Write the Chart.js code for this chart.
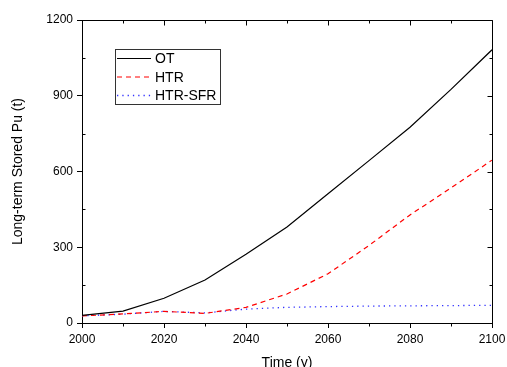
<!DOCTYPE html>
<html>
<head>
<meta charset="utf-8">
<script src="https://cdn.jsdelivr.net/npm/chart.js@4.4.0/dist/chart.umd.min.js"></script>
<style>
html, body { margin: 0; padding: 0; background: #fff; }
</style>
</head>
<body>
<canvas id="canvas1" width="507" height="367"></canvas>
<script>
// data
let years = [2000, 2010, 2020, 2030, 2040, 2050, 2060, 2070, 2080, 2090, 2100];
let otValues = [30, 47, 98, 170, 272, 380, 512, 643, 775, 925, 1082];
let htrValues = [28, 36, 46, 38, 62, 115, 195, 307, 428, 535, 645];
let htrSfrValues = [28, 35, 46, 40, 55, 62, 65, 67, 68, 69, 70];
let seriesNames = ["OT", "HTR", "HTR-SFR"];
let xTicks = [2000, 2020, 2040, 2060, 2080, 2100];
let yTicks = [0, 300, 600, 900, 1200];

function toPoints(vals) {
	return vals.map((v, i) => ({ x: years[i], y: v }));
}

const FONT = "'Liberation Sans', Arial, sans-serif";

// box around the plot + minor ticks (Origin style)
const framePlugin = {
	id: 'frame',
	afterDraw(chart) {
		const ctx = chart.ctx;
		const a = chart.chartArea;
		const xs = chart.scales.x, ys = chart.scales.y;
		const L = Math.round(a.left) + 0.5, R = Math.round(a.right) + 0.5;
		const T = Math.round(a.top) + 0.5, B = Math.round(a.bottom) + 0.5;
		ctx.save();
		ctx.strokeStyle = '#000';
		ctx.lineWidth = 1;
		ctx.beginPath();
		ctx.moveTo(L, T); ctx.lineTo(R, T); ctx.lineTo(R, B);
		for (let yr = 2000; yr <= 2100; yr += 10) {
			let px = Math.round(xs.getPixelForValue(yr)) + 0.5;
			let major = (yr % 20 === 0);
			// top ticks inward
			ctx.moveTo(px, T); ctx.lineTo(px, T + (major ? 5 : 3));
			// bottom minor ticks
			if (!major) { ctx.moveTo(px, B); ctx.lineTo(px, B + 3); }
		}
		for (let v = 0; v <= 1200; v += 150) {
			let py = Math.round(ys.getPixelForValue(v)) + 0.5;
			let major = (v % 300 === 0);
			ctx.moveTo(R, py); ctx.lineTo(R - (major ? 5 : 3), py);
			if (!major) { ctx.moveTo(L, py); ctx.lineTo(L + 3, py); }
		}
		ctx.stroke();
		ctx.restore();
	}
};

// legend box inside the plot
const boxLegend = {
	id: 'boxLegend',
	afterDraw(chart) {
		const ctx = chart.ctx;
		ctx.save();
		ctx.strokeStyle = '#333';
		ctx.lineWidth = 1;
		ctx.strokeRect(115.5, 49.5, 105, 55);
		ctx.font = '14px ' + FONT;
		ctx.textBaseline = 'middle';
		ctx.fillStyle = '#000';
		chart.data.datasets.forEach((ds, i) => {
			let yy = 58.5 + i * 18.5;
			ctx.beginPath();
			ctx.strokeStyle = ds.borderColor;
			ctx.lineWidth = ds.borderWidth;
			ctx.setLineDash(ds.borderDash || []);
			ctx.moveTo(117, yy); ctx.lineTo(151, yy);
			ctx.stroke();
			ctx.setLineDash([]);
			ctx.fillText(ds.label, 155, yy + 1);
		});
		ctx.restore();
	}
};

let ctx = document.getElementById("canvas1");
let myChart = new Chart(ctx, {
	type: 'line',
	data: {
		datasets: [{
			label: seriesNames[0],
			data: toPoints(otValues),
			borderColor: '#000000',
			borderWidth: 1.2,
			pointRadius: 0,
			fill: false
		}, {
			label: seriesNames[1],
			data: toPoints(htrValues),
			borderColor: '#ff0000',
			borderWidth: 1.2,
			borderDash: [5, 4],
			pointRadius: 0,
			fill: false
		}, {
			label: seriesNames[2],
			data: toPoints(htrSfrValues),
			borderColor: '#3333ff',
			borderWidth: 1.3,
			borderDash: [1.3, 4],
			pointRadius: 0,
			fill: false
		}]
	},
	options: {
		responsive: false,
		animation: false,
		devicePixelRatio: 1,
		layout: { padding: { top: 20, right: 15, left: 0, bottom: 0 } },
		plugins: {
			legend: { display: false },
			tooltip: { enabled: false }
		},
		scales: {
			x: {
				type: 'linear',
				min: 2000,
				max: 2100,
				afterFit: s => { s.height = 44; s.paddingLeft = 0; s.paddingRight = 0; },
				afterBuildTicks: s => { s.ticks = xTicks.map(v => ({ value: v })); },
				ticks: {
					color: '#000',
					font: { family: FONT, size: 12 },
					padding: 4,
					maxRotation: 0,
					callback: v => String(v)
				},
				grid: { drawOnChartArea: false, drawTicks: true, tickLength: 5, color: '#000' },
				border: { display: true, color: '#000', width: 1 },
				title: {
					display: true,
					text: 'Time (y)',
					color: '#000',
					font: { family: FONT, size: 14 },
					padding: { top: 0, bottom: -5 }
				}
			},
			y: {
				min: 0,
				max: 1200,
				afterFit: s => { s.width = 82; s.paddingTop = 0; s.paddingBottom = 0; },
				afterBuildTicks: s => { s.ticks = yTicks.map(v => ({ value: v })); },
				ticks: {
					color: '#000',
					font: { family: FONT, size: 12 },
					padding: 4,
					callback: v => String(v)
				},
				grid: { drawOnChartArea: false, drawTicks: true, tickLength: 5, color: '#000' },
				border: { display: true, color: '#000', width: 1 },
				title: {
					display: true,
					text: 'Long-term Stored Pu (t)',
					color: '#000',
					font: { family: FONT, size: 14 },
					padding: { top: 10, bottom: 0 }
				}
			}
		}
	},
	plugins: [framePlugin, boxLegend]
});
</script>
</body>
</html>
